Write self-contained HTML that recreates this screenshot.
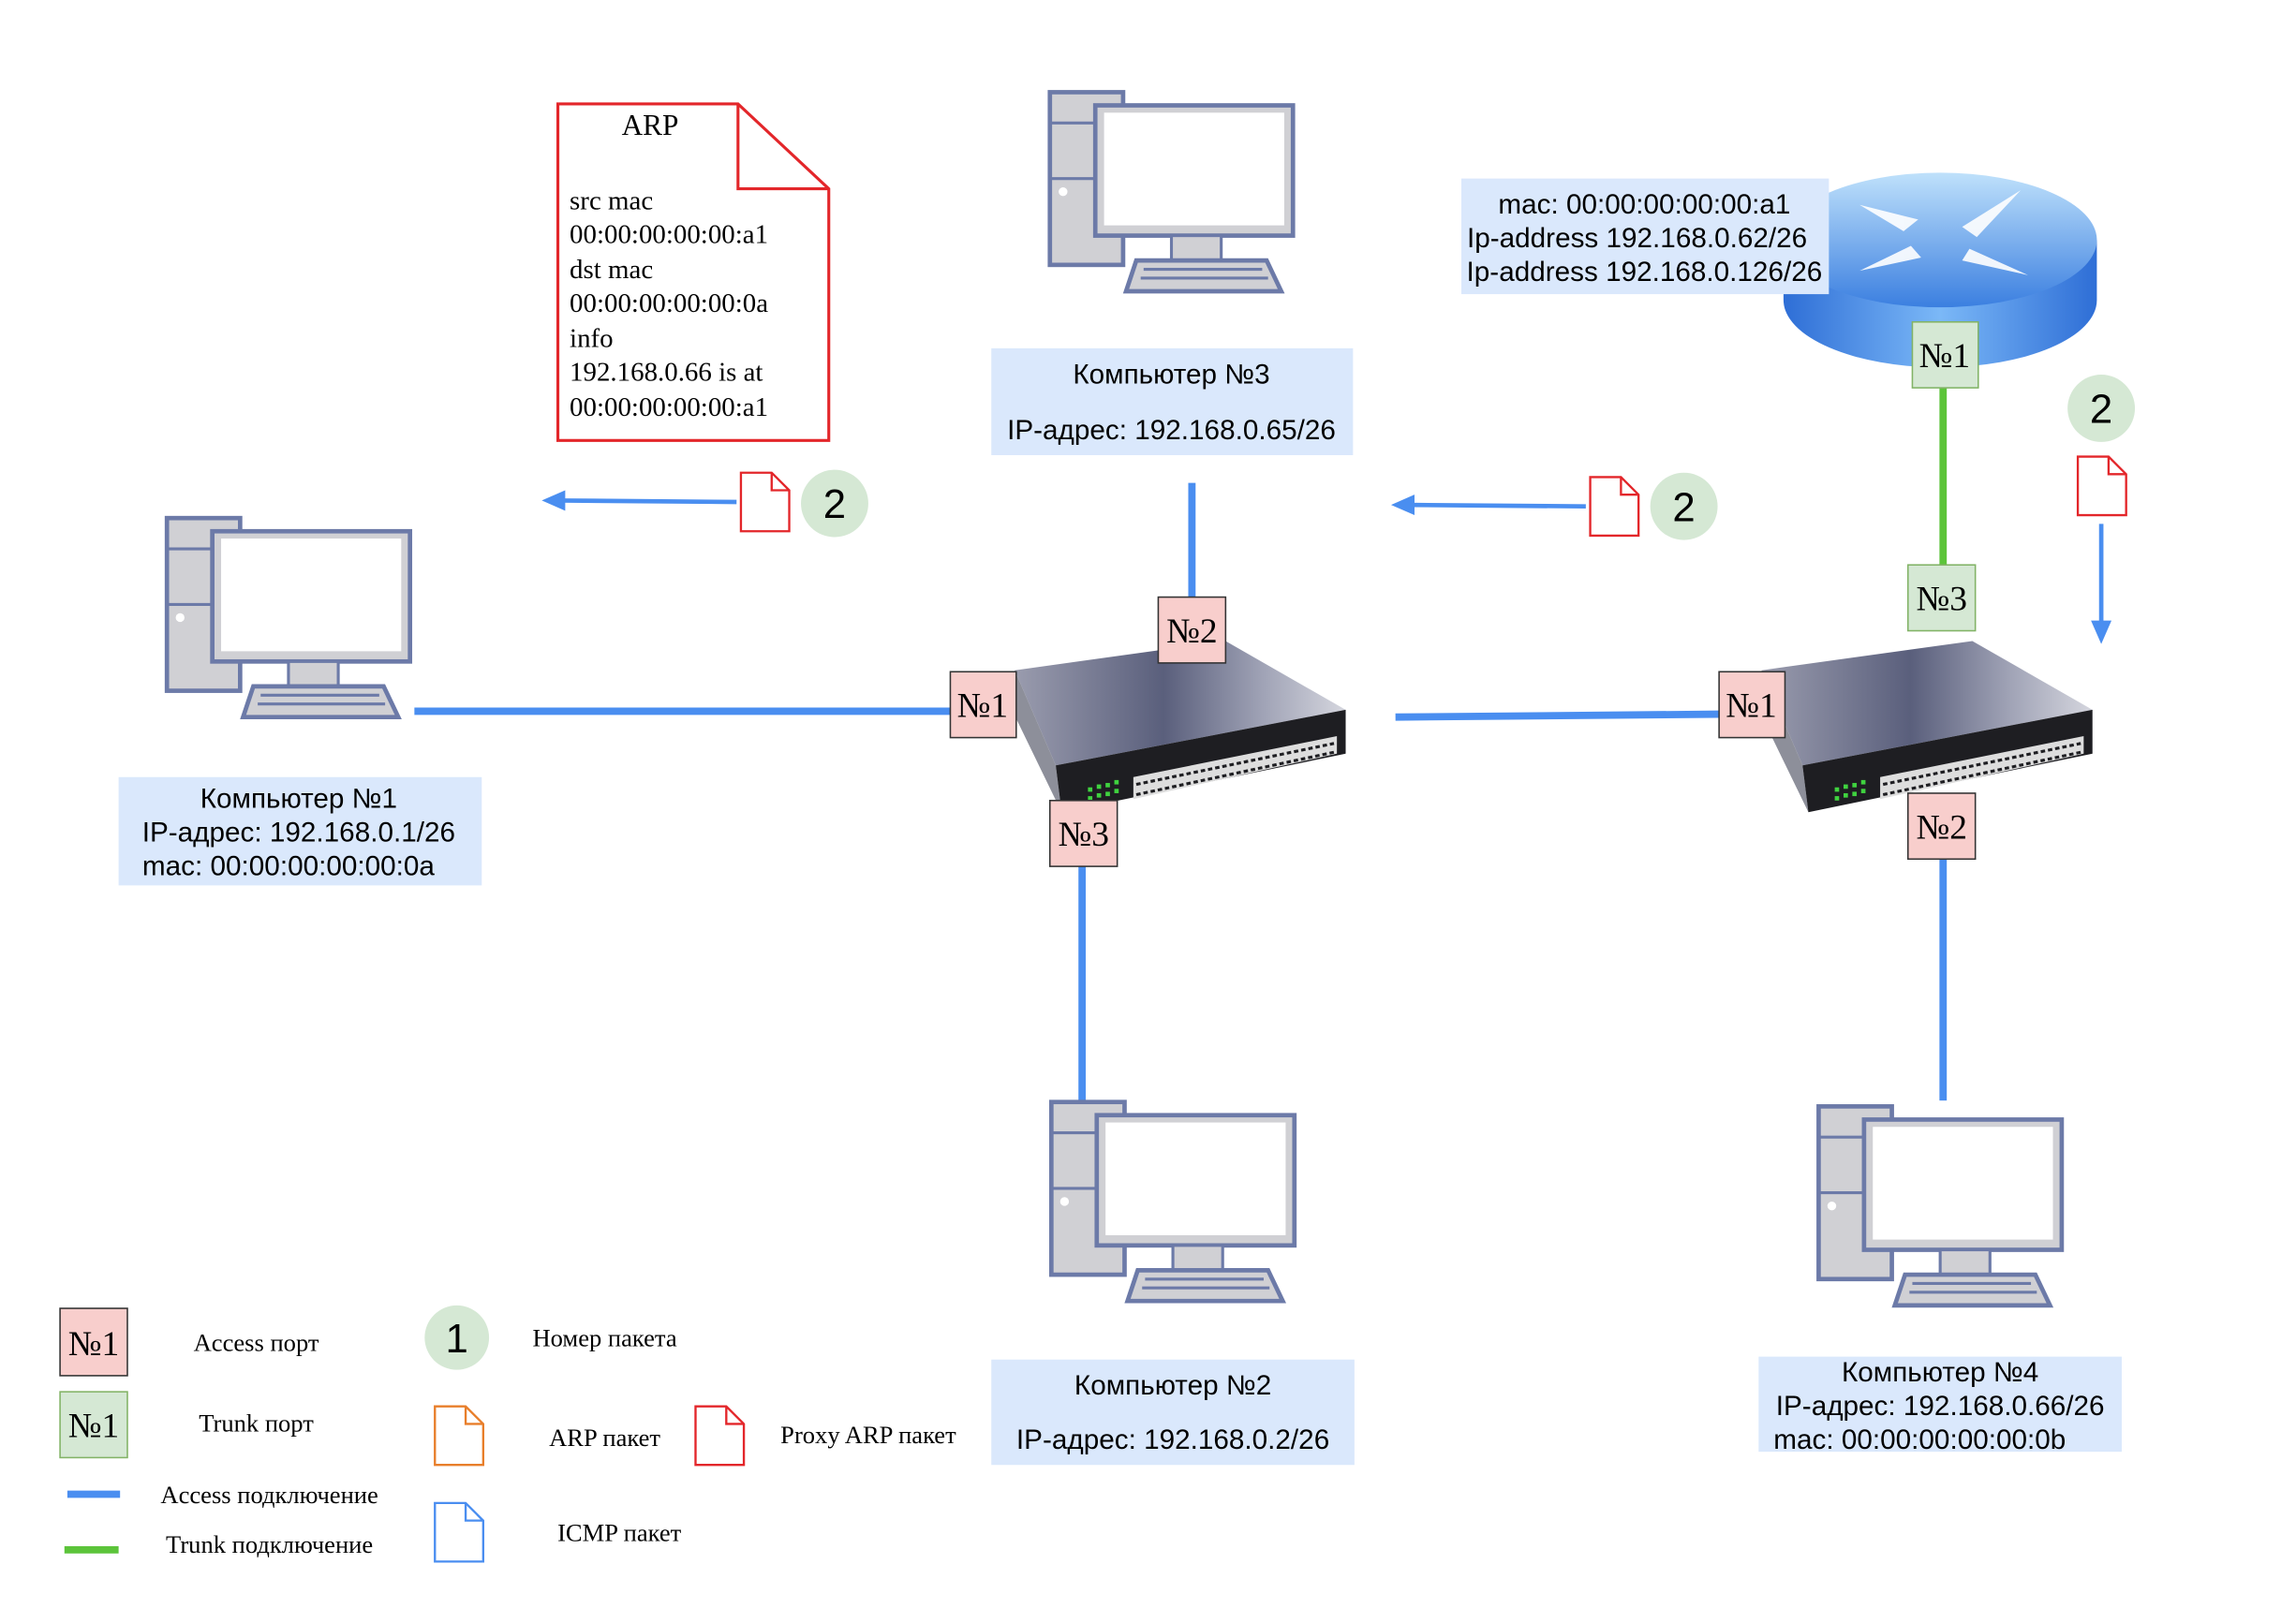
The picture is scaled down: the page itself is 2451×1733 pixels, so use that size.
<!DOCTYPE html>
<html><head><meta charset="utf-8"><style>
html,body{margin:0;padding:0;background:#fff;}
svg{display:block;}
.s{font-family:"Liberation Sans",sans-serif;}
.r{font-family:"Liberation Serif",serif;}
</style></head><body>
<svg width="2451" height="1733" viewBox="0 0 1568 1109" preserveAspectRatio="none" xmlns="http://www.w3.org/2000/svg">
<defs>
<g id="pc">
  <rect x="1" y="1" width="50" height="118" fill="#d0d0d4" stroke="#6c7aa8" stroke-width="3"/>
  <line x1="1" y1="22" x2="51" y2="22" stroke="#6c7aa8" stroke-width="2"/>
  <line x1="1" y1="60" x2="51" y2="60" stroke="#6c7aa8" stroke-width="2"/>
  <circle cx="10" cy="69" r="3" fill="#fff"/>
  <rect x="32" y="10" width="135" height="89" fill="#d0d0d4" stroke="#6c7aa8" stroke-width="3"/>
  <rect x="38" y="15" width="123" height="77" fill="#fff"/>
  <rect x="84" y="99" width="34" height="17" fill="#d0d0d4" stroke="#6c7aa8" stroke-width="2"/>
  <polygon points="53,137 60,116 149,116 159,137" fill="#d0d0d4" stroke="#6c7aa8" stroke-width="3"/>
  <line x1="65" y1="122" x2="146" y2="122" stroke="#6c7aa8" stroke-width="2"/>
  <line x1="63" y1="128" x2="150" y2="128" stroke="#6c7aa8" stroke-width="2"/>
</g>
<linearGradient id="top" x1="0" y1="0" x2="1" y2="0">
  <stop offset="0" stop-color="#9a9cae"/><stop offset="0.45" stop-color="#5a5f7c"/><stop offset="0.75" stop-color="#a0a3b6"/><stop offset="1" stop-color="#d5d6de"/>
</linearGradient>
<g id="sw">
  <polygon points="0,0 144,-20 226,27 28,65" fill="url(#top)"/>
  <polygon points="0,0 28,65 32,97 0,31" fill="#8d8f9a"/>
  <polygon points="28,65 226,27 226,57 32,97" fill="#1e1e22"/>
  <g fill="#3fd23f"><rect x="50" y="80" width="3" height="3"/><rect x="56" y="78" width="3" height="3"/><rect x="62" y="77" width="3" height="3"/><rect x="68" y="75" width="3" height="3"/><rect x="50" y="86" width="3" height="3"/><rect x="56" y="84" width="3" height="3"/><rect x="62" y="83" width="3" height="3"/><rect x="68" y="81" width="3" height="3"/></g>
  <polygon points="81,73 220,45 220,57 81,88" fill="#ddd"/>
  <g stroke="#1e1e22" stroke-width="2" stroke-dasharray="3,2"><line x1="83" y1="78" x2="218" y2="50"/><line x1="83" y1="85" x2="218" y2="56"/></g>
</g>
<g id="doc"><path d="M1,1 H22 L34,13 V41 H1 Z" fill="#fff" stroke-width="1.5"/><path d="M22,1 V13 H34" fill="none" stroke-width="1.5"/></g>
<linearGradient id="rt" x1="0" y1="0" x2="0" y2="1"><stop offset="0" stop-color="#bfe1fb"/><stop offset="1" stop-color="#3b7fe0"/></linearGradient>
<linearGradient id="rs" x1="0" y1="0" x2="1" y2="0"><stop offset="0" stop-color="#2e6ed6"/><stop offset="0.5" stop-color="#7bb8f7"/><stop offset="1" stop-color="#2e6ed6"/></linearGradient>
</defs>

<path d="M381,71 H504 L566,129 V301 H381 Z" fill="#fff" stroke="#e3262a" stroke-width="2"/>
<path d="M504,71 V129 H566" fill="none" stroke="#e3262a" stroke-width="2"/>
<g class="r" font-size="18.5" fill="#000">
<text x="444" y="92" text-anchor="middle" font-size="20">ARP</text>
<text x="389" y="143">src mac</text>
<text x="389" y="166">00:00:00:00:00:a1</text>
<text x="389" y="190">dst mac</text>
<text x="389" y="213">00:00:00:00:00:0a</text>
<text x="389" y="237">info</text>
<text x="389" y="260">192.168.0.66 is at</text>
<text x="389" y="284">00:00:00:00:00:a1</text>
</g>

<g stroke="#4a8ef0" stroke-width="5" fill="none">
<line x1="283" y1="486" x2="649" y2="486"/>
<line x1="814" y1="330" x2="814" y2="408"/>
<line x1="739" y1="592" x2="739" y2="757"/>
<line x1="953" y1="490" x2="1174" y2="488"/>
<line x1="1327" y1="587" x2="1327" y2="752"/>
</g>
<line x1="1327" y1="265" x2="1327" y2="386" stroke="#5cc43a" stroke-width="5"/>

<use href="#pc" x="716" y="62"/>
<use href="#pc" x="113" y="353"/>
<use href="#pc" x="717" y="752"/>
<use href="#pc" x="1241" y="755"/>

<use href="#sw" x="693" y="458"/>
<use href="#sw" x="1203" y="458"/>

<path d="M1218,164 V205 A107,46 0 0 0 1432,205 V164 Z" fill="url(#rs)"/>
<ellipse cx="1325" cy="164" rx="107" ry="46" fill="url(#rt)"/>
<g fill="#fff" opacity="0.9"><polygon points="1270,140 1310,150 1300,158"/><polygon points="1380,130 1340,155 1350,162"/><polygon points="1270,185 1305,168 1312,176"/><polygon points="1385,188 1345,170 1340,178"/></g>

<g class="s" font-size="19" fill="#000">
<rect x="677" y="238" width="247" height="73" fill="#dae8fc"/>
<text x="800" y="262" text-anchor="middle">Компьютер №3</text>
<text x="800" y="300" text-anchor="middle">IP-адрес: 192.168.0.65/26</text>
<rect x="81" y="531" width="248" height="74" fill="#dae8fc"/>
<text x="204" y="552" text-anchor="middle">Компьютер №1</text>
<text x="204" y="575" text-anchor="middle">IP-адрес: 192.168.0.1/26</text>
<text x="197" y="598" text-anchor="middle">mac: 00:00:00:00:00:0a</text>
<rect x="677" y="929" width="248" height="72" fill="#dae8fc"/>
<text x="801" y="953" text-anchor="middle">Компьютер №2</text>
<text x="801" y="990" text-anchor="middle">IP-адрес: 192.168.0.2/26</text>
<rect x="1201" y="927" width="248" height="65" fill="#dae8fc"/>
<text x="1325" y="944" text-anchor="middle">Компьютер №4</text>
<text x="1325" y="967" text-anchor="middle">IP-адрес: 192.168.0.66/26</text>
<text x="1311" y="990" text-anchor="middle">mac: 00:00:00:00:00:0b</text>
<rect x="998" y="122" width="251" height="79" fill="#dae8fc"/>
<text x="1123" y="146" text-anchor="middle">mac: 00:00:00:00:00:a1</text>
<text x="1118" y="169" text-anchor="middle">Ip-address 192.168.0.62/26</text>
<text x="1123" y="192" text-anchor="middle">Ip-address 192.168.0.126/26</text>
</g>

<g class="r" font-size="24" text-anchor="middle">
<g fill="#f8cecc" stroke="#333" stroke-width="1">
<rect x="649" y="459" width="45" height="45"/><rect x="791" y="408" width="46" height="45"/><rect x="717" y="547" width="46" height="45"/>
<rect x="1174" y="459" width="45" height="45"/><rect x="1303" y="542" width="46" height="45"/><rect x="41" y="894" width="46" height="46"/>
</g>
<g fill="#d5e8d4" stroke="#82b366" stroke-width="1">
<rect x="1303" y="386" width="46" height="45"/><rect x="1306" y="220" width="45" height="45"/><rect x="41" y="951" width="46" height="45"/>
</g>
<text x="671" y="490">№1</text><text x="814" y="439">№2</text><text x="740" y="578">№3</text>
<text x="1196" y="490">№1</text><text x="1326" y="573">№2</text><text x="64" y="926">№1</text>
<text x="1326" y="417">№3</text><text x="1328" y="251">№1</text><text x="64" y="982">№1</text>
</g>

<g stroke="#4a8ef0" stroke-width="3" fill="#4a8ef0">
<line x1="503" y1="343" x2="382" y2="342"/><polygon points="370,342 386,335 386,349" stroke="none"/>
<line x1="1083" y1="346" x2="962" y2="345"/><polygon points="950,345 966,338 966,352" stroke="none"/>
<line x1="1435" y1="358" x2="1435" y2="428"/><polygon points="1435,440 1428,424 1442,424" stroke="none"/>
</g>
<use href="#doc" x="505" y="322" stroke="#e3262a"/>
<use href="#doc" x="1085" y="325" stroke="#e3262a"/>
<use href="#doc" x="1418" y="311" stroke="#e3262a"/>
<g fill="#d5e8d4"><circle cx="570" cy="344" r="23"/><circle cx="1150" cy="346" r="23"/><circle cx="1435" cy="279" r="23"/><circle cx="312" cy="914" r="22"/></g>
<g class="s" font-size="28" text-anchor="middle">
<text x="570" y="354">2</text><text x="1150" y="356">2</text><text x="1435" y="289">2</text><text x="312" y="924">1</text>
</g>

<line x1="46" y1="1021" x2="82" y2="1021" stroke="#4a8ef0" stroke-width="5"/>
<line x1="44" y1="1059" x2="81" y2="1059" stroke="#5cc43a" stroke-width="5"/>
<use href="#doc" x="296" y="960" stroke="#e87e2a"/>
<use href="#doc" x="474" y="960" stroke="#e3262a"/>
<use href="#doc" x="296" y="1026" stroke="#4a8ef0"/>
<g class="r" font-size="17" text-anchor="middle">
<text x="175" y="923">Access порт</text>
<text x="175" y="978">Trunk порт</text>
<text x="184" y="1027">Access подключение</text>
<text x="184" y="1061">Trunk подключение</text>
<text x="413" y="920">Номер пакета</text>
<text x="413" y="988">ARP пакет</text>
<text x="593" y="986">Proxy ARP пакет</text>
<text x="423" y="1053">ICMP пакет</text>
</g>
</svg>
</body></html>
